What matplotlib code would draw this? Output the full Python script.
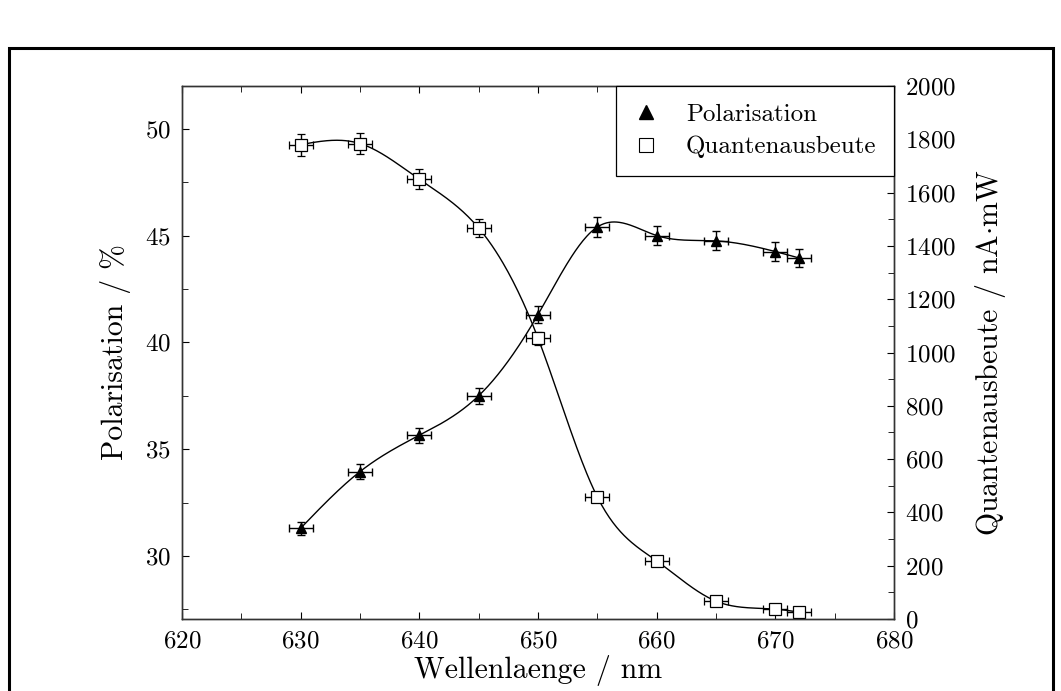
import numpy as np
import matplotlib
matplotlib.use("Agg")
import matplotlib.pyplot as plt
from matplotlib.lines import Line2D
from matplotlib.patches import Rectangle

plt.rcParams['font.family'] = 'serif'
plt.rcParams['font.serif'] = ['cmr10']
plt.rcParams['mathtext.fontset'] = 'cm'
plt.rcParams['axes.formatter.use_mathtext'] = True

# Messwerte
wellenlaenge = [630, 635, 640, 645, 650, 655, 660, 665, 670, 672]
wl_err = [1, 1, 1, 1, 1, 1, 1, 1, 1, 1]

polarisation = [31.3, 33.95, 35.65, 37.5, 41.3, 45.4, 45.0, 44.75, 44.25, 43.95]
pol_err = [0.31, 0.34, 0.36, 0.38, 0.41, 0.45, 0.45, 0.45, 0.44, 0.44]

quantenausbeute = [1780, 1784, 1650, 1467, 1054, 458, 218, 67, 37, 26]
qe_err = [41, 41, 38, 34, 24, 11, 5, 2, 1, 1]


def natural_spline(x, y, xs):
    # natuerlicher kubischer Spline durch die Messpunkte
    x = np.asarray(x, float)
    y = np.asarray(y, float)
    n = len(x)
    h = np.diff(x)
    A = np.zeros((n, n))
    b = np.zeros(n)
    A[0, 0] = 1
    A[-1, -1] = 1
    for i in range(1, n - 1):
        A[i, i - 1] = h[i - 1]
        A[i, i] = 2 * (h[i - 1] + h[i])
        A[i, i + 1] = h[i]
        b[i] = 6 * ((y[i + 1] - y[i]) / h[i] - (y[i] - y[i - 1]) / h[i - 1])
    M = np.linalg.solve(A, b)
    idx = np.clip(np.searchsorted(x, xs) - 1, 0, n - 2)
    x0, x1 = x[idx], x[idx + 1]
    hh = x1 - x0
    t0 = x1 - xs
    t1 = xs - x0
    return (M[idx] * t0 ** 3 / (6 * hh) + M[idx + 1] * t1 ** 3 / (6 * hh)
            + (y[idx] / hh - M[idx] * hh / 6) * t0
            + (y[idx + 1] / hh - M[idx + 1] * hh / 6) * t1)


fig = plt.figure(figsize=(10.61, 6.91), dpi=100)
ax = fig.add_axes([182 / 1061, 1 - 619 / 691, 712 / 1061, 533 / 691])
ax2 = ax.twinx()

xs = np.linspace(wellenlaenge[0], wellenlaenge[-1], 400)

ax.plot(xs, natural_spline(wellenlaenge, polarisation, xs), color='black', lw=1.0)
ax.errorbar(wellenlaenge, polarisation, xerr=wl_err, yerr=pol_err, fmt='^',
            color='black', ms=7, capsize=3, elinewidth=1, capthick=1)

ax2.plot(xs, natural_spline(wellenlaenge, quantenausbeute, xs), color='black', lw=1.0)
ax2.errorbar(wellenlaenge, quantenausbeute, xerr=wl_err, yerr=qe_err, fmt='s',
             color='black', mfc='white', mec='black', ms=8, mew=0.9,
             capsize=3, elinewidth=1, capthick=1)

ax.set_xlim(620, 680)
ax.set_ylim(27.05, 52.0)
ax2.set_ylim(0, 2000)

ax.set_xticks([620, 630, 640, 650, 660, 670, 680])
ax.set_xticks(np.arange(625, 680, 10), minor=True)
ax.set_yticks([30, 35, 40, 45, 50])
ax.set_yticks([27.5, 32.5, 37.5, 42.5, 47.5], minor=True)
ax2.set_yticks(np.arange(0, 2001, 200))
ax2.set_yticks(np.arange(100, 2000, 200), minor=True)

ax.tick_params(axis='x', which='both', direction='in', top=True, labelsize=18, pad=8)
ax.tick_params(axis='y', which='both', direction='in', right=False, labelsize=18, pad=8)
ax2.tick_params(axis='y', which='both', direction='in', labelsize=18, pad=8)
ax.tick_params(which='major', length=5)
ax.tick_params(which='minor', length=4)
ax2.tick_params(which='major', length=5)
ax2.tick_params(which='minor', length=4)

for a in (ax, ax2):
    for s in a.spines.values():
        s.set_color('#333333')
        s.set_linewidth(1.0)

ax.set_xlabel('Wellenlaenge / nm', fontsize=21.5, labelpad=2)
ax.set_ylabel('Polarisation / %', fontsize=21.5, labelpad=10)
ax2.set_ylabel(r'Quantenausbeute / nA$\cdot$mW', fontsize=21.5, labelpad=12)

handles = [Line2D([], [], marker='^', ls='none', color='black', ms=10),
           Line2D([], [], marker='s', ls='none', mfc='white', mec='black', ms=10, mew=0.8)]
leg = ax2.legend(handles, ['Polarisation', 'Quantenausbeute'], loc='upper right',
                 borderaxespad=0, fancybox=False, framealpha=1, edgecolor='black',
                 fontsize=18, handlelength=1.0, handletextpad=1.1,
                 borderpad=0.7, labelspacing=0.4)
leg.get_frame().set_linewidth(0.9)

# aeusserer Rahmen
fig.patches.append(Rectangle((9 / 1061, -0.05), 1044 / 1061, 1 - 48 / 691 + 0.05,
                             transform=fig.transFigure, fill=False,
                             edgecolor='black', lw=2.2, clip_on=False))

fig.savefig('out.png', dpi=100)
